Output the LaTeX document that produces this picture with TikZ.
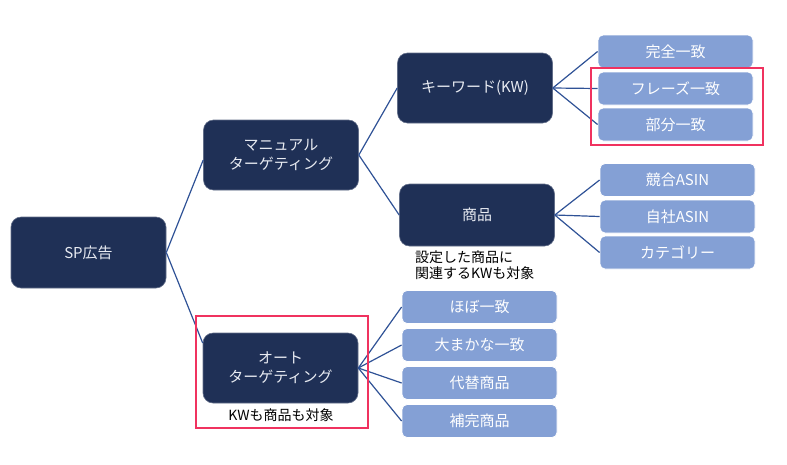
\documentclass[tikz,border=0pt]{standalone}
\usepackage{fontspec}
\setmainfont{Noto Sans CJK JP}
\usetikzlibrary{calc}
\definecolor{navy}{RGB}{31,48,86}
\definecolor{leafc}{RGB}{132,160,213}
\definecolor{linec}{RGB}{47,82,150}
\definecolor{redc}{RGB}{240,50,95}
\definecolor{txtl}{RGB}{232,235,242}
\begin{document}
\begin{tikzpicture}[x=1pt,y=-1pt,
  darkbox/.style={rectangle, rounded corners=10pt, fill=navy, draw=navy!70!white, line width=0.6pt,
    minimum width=155pt, minimum height=70pt, text=txtl, font=\fontsize{15}{19}\selectfont,
    align=center, inner sep=0pt},
  leafbox/.style={rectangle, rounded corners=5pt, fill=leafc, draw=white, line width=0.8pt,
    minimum width=155pt, minimum height=33pt, text=white, font=\fontsize{15}{18}\selectfont,
    inner sep=0pt},
  conn/.style={draw=linec, line width=1.2pt},
  hilite/.style={draw=redc, line width=2.6pt},
  note/.style={font=\fontsize{14}{16}\selectfont, inner sep=0pt, text=black}]
\useasboundingbox (0,0) rectangle (787,464);

% main nodes
\node[darkbox, minimum height=71pt] (sp) at (88.5,252.5) {SP広告};
\node[darkbox] (man) at (281,155) {マニュアル\\ターゲティング};
\node[darkbox] (kw) at (475,88) {キーワード(KW)};
\node[darkbox, minimum height=62pt] (prod) at (477,215) {商品};
\node[darkbox] (auto) at (280.5,368) {オート\\ターゲティング};

% leaves
\node[leafbox] (l1) at (675.5,51.5) {完全一致};
\node[leafbox] (l2) at (675.5,88.5) {フレーズ一致};
\node[leafbox] (l3) at (675.5,124.5) {部分一致};
\node[leafbox] (p1) at (677.5,180) {競合ASIN};
\node[leafbox] (p2) at (677.5,216.5) {自社ASIN};
\node[leafbox] (p3) at (677.5,252.5) {カテゴリー};
\node[leafbox] (a1) at (479.5,307) {ほぼ一致};
\node[leafbox] (a2) at (479.5,345) {大まかな一致};
\node[leafbox] (a3) at (479.5,383) {代替商品};
\node[leafbox] (a4) at (479.5,421) {補完商品};

% notes
\node[note, anchor=base west] (n1) at (415,262) {設定した商品に};
\node[note, anchor=base west] (n2) at (415,278) {関連するKWも対象};
\node[note, anchor=base] (n3) at (281,420) {KWも商品も対象};

% connectors
\draw[conn] (sp.east) -- ($(man.west)+(0,5)$);
\draw[conn] (sp.east) -- ($(auto.west)+(0,-25)$);
\draw[conn] (man.east) -- (kw.west);
\draw[conn] (man.east) -- (prod.west);
\foreach \t in {l1,l2,l3} \draw[conn] (kw.east) -- (\t.west);
\foreach \t in {p1,p2,p3} \draw[conn] (prod.east) -- (\t.west);
\foreach \t in {a1,a2,a3,a4} \draw[conn] (auto.east) -- (\t.west);

% highlight frames
\draw[hilite] (591,68) rectangle (763,145);
\draw[hilite] (196,316) rectangle (368,428);
\end{tikzpicture}
\end{document}
